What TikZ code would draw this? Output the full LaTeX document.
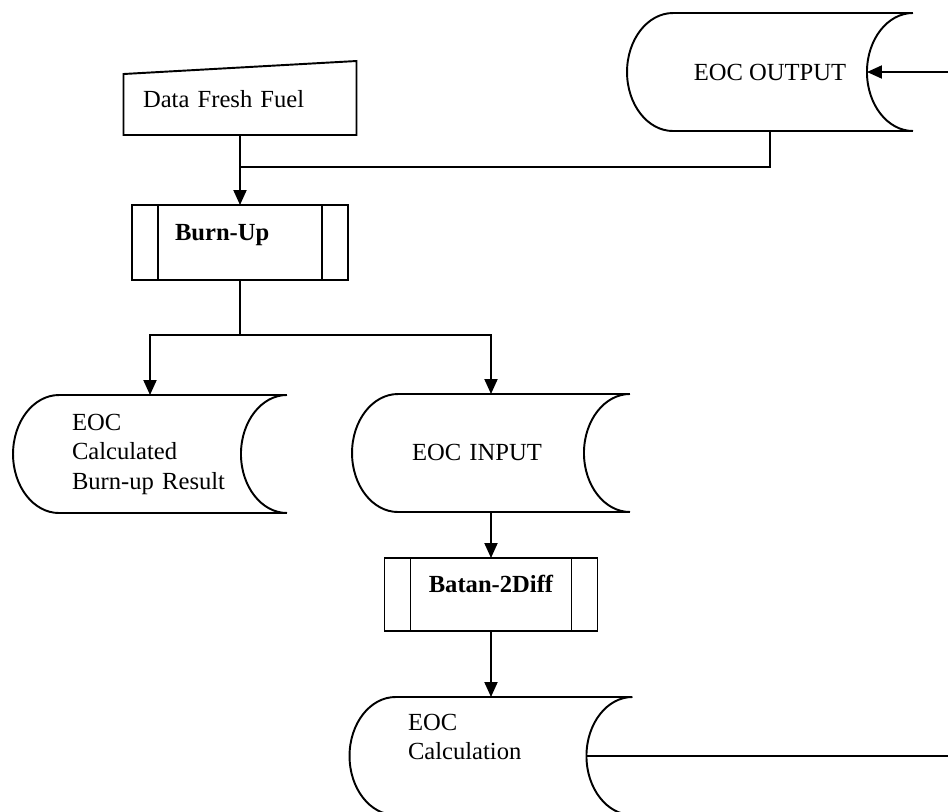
\documentclass[tikz,border=0pt]{standalone}
\usepackage{fontspec}
\setmainfont{Liberation Serif}
\usetikzlibrary{calc,arrows.meta}

\tikzset{
  flow/.style={line width=1.1pt},
  arrow/.style={flow, -{Triangle[length=3mm,width=2.6mm]}},
  box/.style={inner sep=0pt, outer sep=0pt, font=\fontsize{14}{17}\selectfont},
}

% stored data outline round a node
\newcommand{\storedoutline}[1]{%
  \draw[flow] (#1.north east) -- ($(#1.north west)+(46,0)$)
    arc[start angle=90, end angle=270, x radius=46, y radius=59]
    -- (#1.south east)
    arc[start angle=270, end angle=90, x radius=46, y radius=59];}

% predefined process outline round a node
\newcommand{\procoutline}[1]{%
  \draw[flow] (#1.north west) rectangle (#1.south east)
    ($(#1.north west)+(26,0)$) -- ($(#1.south west)+(26,0)$)
    ($(#1.north east)+(-26,0)$) -- ($(#1.south east)+(-26,0)$);}

\begin{document}
\begin{tikzpicture}[x=0.02cm, y=0.02cm]
	\useasboundingbox (0,0) rectangle (948,-812);

	% Data input and burn-up step
	\node[box, minimum width=4.66cm, minimum height=1.48cm, text width=3.88cm, align=left,
	  text height=0.92cm, text depth=0.56cm] (fresh) at (240,-98) {Data Fresh Fuel};
	\draw[flow] ($(fresh.north west)+(0,-13)$) -- (fresh.north east) -- (fresh.south east) -- (fresh.south west) -- cycle;

	\node[box, minimum width=4.32cm, minimum height=1.5cm, text width=2.6cm, align=left,
	  text height=0.7cm, text depth=0.8cm] (burn) at (240,-242.5) {\bfseries Burn-Up};
	\procoutline{burn}

	% EOC output from the previous cycle
	\node[box, minimum width=5.72cm, minimum height=2.36cm, align=center,
	  text height=1.34cm, text depth=1.02cm] (out) at (770,-72) {EOC OUTPUT};
	\storedoutline{out}

	% Burn-up results
	\node[box, minimum width=5.48cm, minimum height=2.36cm, text width=3.12cm, align=left,
	  text height=0.7cm, text depth=1.66cm] (calc) at (150,-454) {EOC\\Calculated\\Burn-up~Result};
	\storedoutline{calc}

	\node[box, minimum width=5.56cm, minimum height=2.36cm, text width=3.16cm, align=left,
	  text height=1.32cm, text depth=1.04cm] (input) at (491,-453) {EOC INPUT};
	\storedoutline{input}

	% Diffusion step
	\node[box, minimum width=4.26cm, minimum height=1.46cm, align=center,
	  text height=0.68cm, text depth=0.78cm] (batan) at (491,-594.5) {\bfseries Batan-2Diff};
	\procoutline{batan}

	\node[box, minimum width=5.66cm, minimum height=2.36cm, text width=3.32cm, align=left,
	  text height=0.66cm, text depth=1.7cm] (eocc) at (491,-756) {EOC\\Calculation};
	\storedoutline{eocc}

	% Connectors
	\coordinate (join) at (240,-167);
	\coordinate (split) at (240,-335);
	\coordinate (outin) at (948,-72);
	\coordinate (calcout) at (948,-756);

	\draw[arrow] (fresh.south) -- (burn.north);
	\draw[flow] (out.south) |- (join);
	\draw[flow] (burn.south) -- (split);
	\draw[arrow] (split) -| (calc.north);
	\draw[arrow] (split) -| (input.north);
	\draw[arrow] (input.south) -- (batan.north);
	\draw[arrow] (batan.south) -- (eocc.north);
	\draw[arrow] (outin) -- ($(out.east)+(-46,0)$);
	\draw[flow] ($(eocc.east)+(-46,0)$) -- (calcout);

\end{tikzpicture}
\end{document}
